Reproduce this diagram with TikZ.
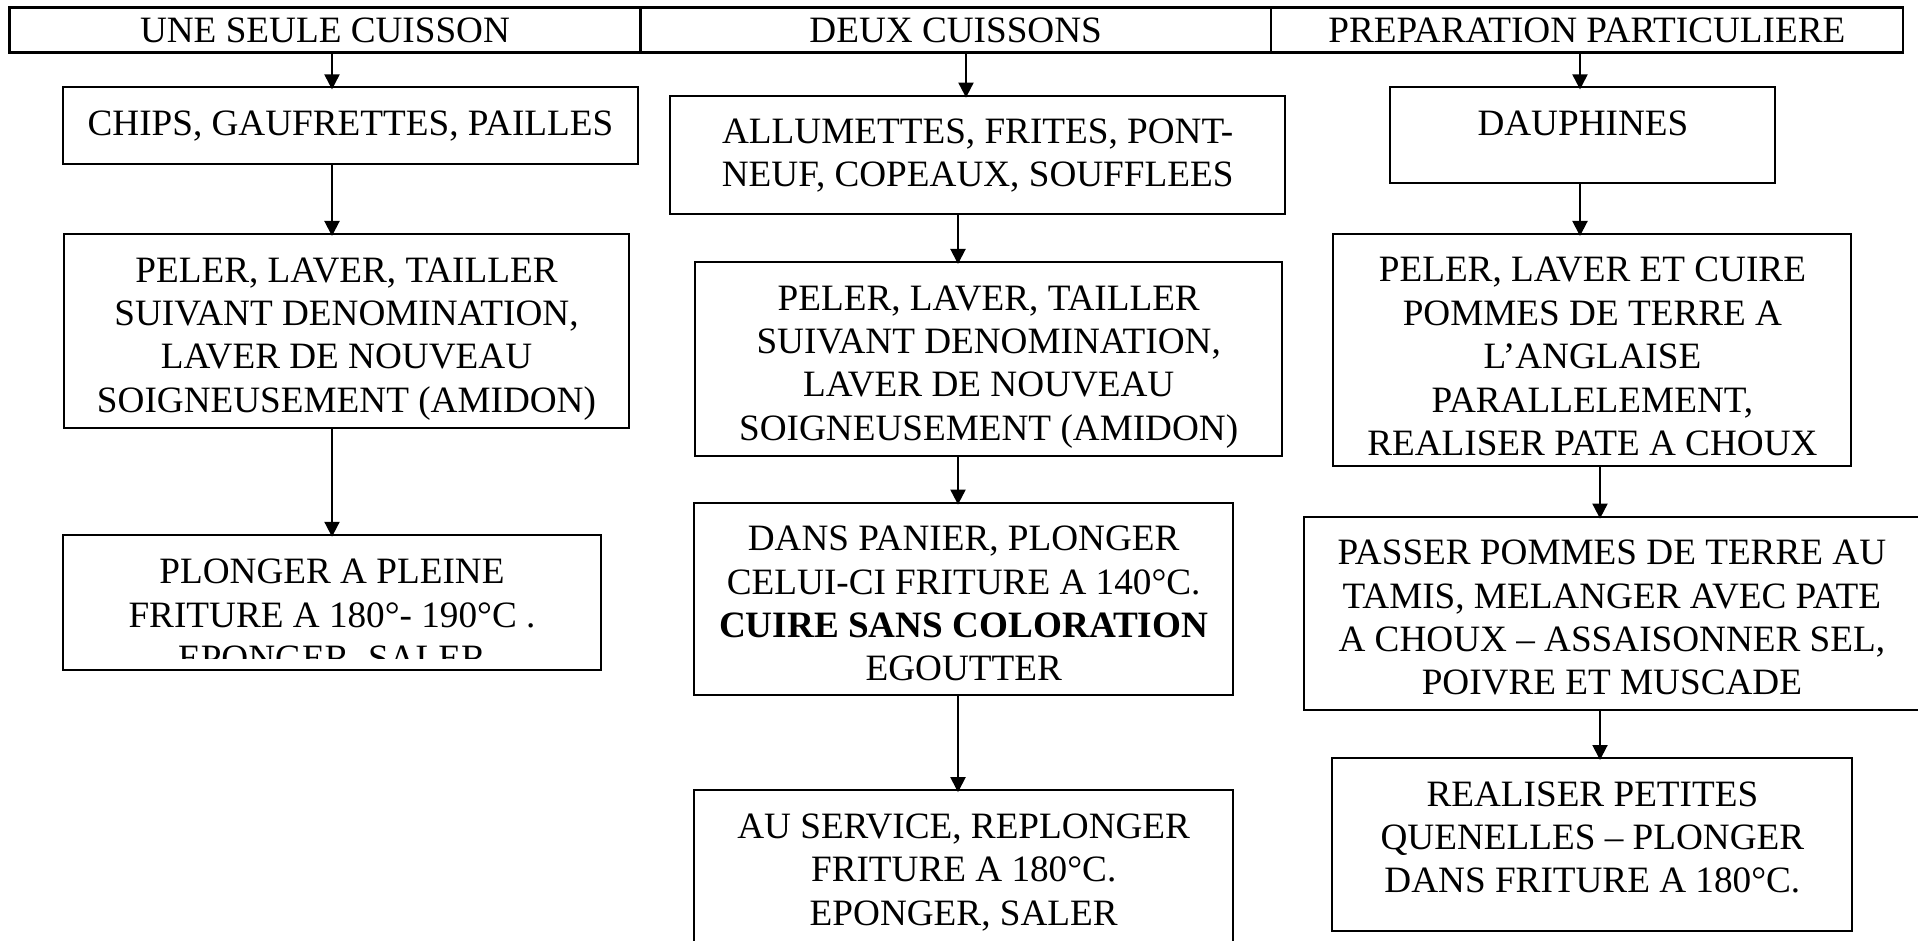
\documentclass[tikz,border=0pt]{standalone}
\usepackage{fontspec}
\setmainfont{Liberation Serif}
\usepackage{tikz}
\usetikzlibrary{arrows.meta,positioning}

% text of a box, set from its top edge
\newcommand{\steptext}[3]{\parbox[c][#2][t]{#1}{\centering\rule{0pt}{24pt}#3\par}}

\begin{document}
\begin{tikzpicture}[
  every node/.style={font=\fontsize{18.6pt}{21.7pt}\selectfont},
  headcell/.style={draw, line width=0.6pt, inner sep=0pt, minimum height=22pt,
                   text height=13pt, text depth=0pt},
  stepbox/.style={draw, line width=1pt, inner sep=0pt},
  arr/.style={-{Triangle[length=7.5pt,width=7.5pt]}, line width=1pt, shorten >=-1.5pt}
]
\useasboundingbox (0,0) rectangle (959pt,-470.5pt);

% header row
\node[headcell, minimum width=315pt] (hone) at (162.5pt,-15pt) {UNE SEULE CUISSON};
\node[headcell, minimum width=314.5pt, right=0pt of hone]  (htwo)   {DEUX CUISSONS};
\node[headcell, minimum width=315.5pt, right=0pt of htwo]  (hthree) {PREPARATION PARTICULIERE};
\draw[line width=1.3pt] (hone.north west) rectangle (hthree.south east);

% une seule cuisson
\node[stepbox, below=16.9pt of hone, xshift=12.75pt] (chips)
  {\steptext{287.5pt}{38.5pt}{CHIPS, GAUFRETTES, PAILLES}};
\node[stepbox, below=33.8pt of chips, xshift=-2pt] (pelera)
  {\steptext{282.5pt}{97pt}{PELER, LAVER, TAILLER\\ SUIVANT DENOMINATION,\\ LAVER DE NOUVEAU\\ SOIGNEUSEMENT (AMIDON)}};
\node[stepbox, minimum width=269pt, minimum height=67.5pt, below=52.4pt of pelera, xshift=-7.25pt,
  path picture={
    \clip (path picture bounding box.north west) rectangle ([yshift=5.5pt]path picture bounding box.south east);
    \node[anchor=north, inner sep=0pt] at (path picture bounding box.north)
      {\steptext{269pt}{67.5pt}{PLONGER A PLEINE\\ FRITURE A 180°- 190°C .\\ EPONGER, SALER}};
  }] (plonger) {};

% deux cuissons
\node[stepbox, below=21pt of htwo, xshift=11pt] (allum)
  {\steptext{307.5pt}{59pt}{ALLUMETTES, FRITES, PONT-\\ NEUF, COPEAUX, SOUFFLEES}};
\node[stepbox, below=23.2pt of allum, xshift=5.5pt] (pelerb)
  {\steptext{293.5pt}{97pt}{PELER, LAVER, TAILLER\\ SUIVANT DENOMINATION,\\ LAVER DE NOUVEAU\\ SOIGNEUSEMENT (AMIDON)}};
\node[stepbox, below=22.3pt of pelerb, xshift=-12.5pt] (panier)
  {\steptext{269.5pt}{96pt}{DANS PANIER, PLONGER\\ CELUI-CI FRITURE A 140°C.\\ \textbf{CUIRE SANS COLORATION}\\ EGOUTTER}};
\node[stepbox, below=46.8pt of panier] (service)
  {\steptext{269.5pt}{80pt}{AU SERVICE, REPLONGER\\ FRITURE A 180°C.\\ EPONGER, SALER}};

% preparation particuliere
\node[stepbox, below=16.9pt of hthree, xshift=-2pt] (dauph)
  {\steptext{192.5pt}{48pt}{DAUPHINES}};
\node[stepbox, below=24.3pt of dauph, xshift=4.75pt] (pelerc)
  {\steptext{259pt}{116pt}{PELER, LAVER ET CUIRE\\ POMMES DE TERRE A\\ L’ANGLAISE\\ PARALLELEMENT,\\ REALISER PATE A CHOUX}};
\node[stepbox, below=24.3pt of pelerc, xshift=9.75pt] (passer)
  {\steptext{307.5pt}{96.5pt}{PASSER POMMES DE TERRE AU\\ TAMIS, MELANGER AVEC PATE\\ A CHOUX – ASSAISONNER SEL,\\ POIVRE ET MUSCADE}};
\node[stepbox, below=23.2pt of passer, xshift=-9.75pt] (quenelles)
  {\steptext{260pt}{86.5pt}{REALISER PETITES\\ QUENELLES – PLONGER\\ DANS FRITURE A 180°C.}};

% arrows
\coordinate (xa)  at (166pt,0);
\coordinate (xb)  at (483pt,0);
\coordinate (xbb) at (479pt,0);
\coordinate (xc)  at (790pt,0);
\coordinate (xcc) at (800pt,0);

\draw[arr] (hone.south -| xa)    -- (chips.north -| xa);
\draw[arr] (chips.south -| xa)   -- (pelera.north -| xa);
\draw[arr] (pelera.south -| xa)  -- (plonger.north -| xa);

\draw[arr] (htwo.south -| xb)    -- (allum.north -| xb);
\draw[arr] (allum.south -| xbb)  -- (pelerb.north -| xbb);
\draw[arr] (pelerb.south -| xbb) -- (panier.north -| xbb);
\draw[arr] (panier.south -| xbb) -- (service.north -| xbb);

\draw[arr] (hthree.south -| xc)  -- (dauph.north -| xc);
\draw[arr] (dauph.south -| xc)   -- (pelerc.north -| xc);
\draw[arr] (pelerc.south -| xcc) -- (passer.north -| xcc);
\draw[arr] (passer.south -| xcc) -- (quenelles.north -| xcc);
\end{tikzpicture}
\end{document}
